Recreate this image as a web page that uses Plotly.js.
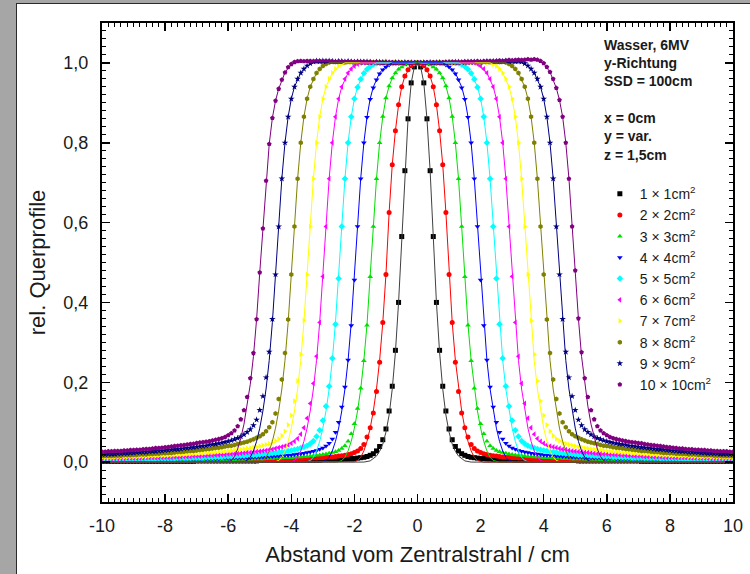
<!DOCTYPE html>
<html>
<head>
<meta charset="utf-8">
<script src="https://cdn.plot.ly/plotly-3.0.1.min.js"></script>
<style>
html,body{margin:0;padding:0;background:#a6a6a6;}
#panel{position:absolute;left:16px;top:3px;width:740px;height:580px;background:#ffffff;border:1.5px solid #2a2a2a;box-sizing:border-box;}
#chart{position:absolute;left:0;top:0;width:750px;height:574px;}
</style>
</head>
<body>
<div id="panel"></div>
<div id="chart"></div>
<script>
// x positions of the measured points (cm)
const xPos = [0,0.1,0.2,0.3,0.4,0.5,0.6,0.7,0.8,0.9,1,1.1,1.2,1.3,1.4,1.5,1.6,1.7,1.8,1.9,2,2.1,2.2,2.3,2.4,2.5,2.6,2.7,2.8,2.9,3,3.1,3.2,3.3,3.4,3.5,3.6,3.7,3.8,3.9,4,4.1,4.2,4.3,4.4,4.5,4.6,4.7,4.8,4.9,5,5.1,5.2,5.3,5.4,5.5,5.6,5.7,5.8,5.9,6,6.1,6.2,6.3,6.4,6.5,6.6,6.7,6.8,6.9,7,7.1,7.2,7.3,7.4,7.5,7.6,7.7,7.8,7.9,8,8.1,8.2,8.3,8.4,8.5,8.6,8.7,8.8,8.9,9,9.1,9.2,9.3,9.4,9.5,9.6,9.7,9.8,9.9,10];
const xNeg = [-0.1,-0.2,-0.3,-0.4,-0.5,-0.6,-0.7,-0.8,-0.9,-1,-1.1,-1.2,-1.3,-1.4,-1.5,-1.6,-1.7,-1.8,-1.9,-2,-2.1,-2.2,-2.3,-2.4,-2.5,-2.6,-2.7,-2.8,-2.9,-3,-3.1,-3.2,-3.3,-3.4,-3.5,-3.6,-3.7,-3.8,-3.9,-4,-4.1,-4.2,-4.3,-4.4,-4.5,-4.6,-4.7,-4.8,-4.9,-5,-5.1,-5.2,-5.3,-5.4,-5.5,-5.6,-5.7,-5.8,-5.9,-6,-6.1,-6.2,-6.3,-6.4,-6.5,-6.6,-6.7,-6.8,-6.9,-7,-7.1,-7.2,-7.3,-7.4,-7.5,-7.6,-7.7,-7.8,-7.9,-8,-8.1,-8.2,-8.3,-8.4,-8.5,-8.6,-8.7,-8.8,-8.9,-9,-9.1,-9.2,-9.3,-9.4,-9.5,-9.6,-9.7,-9.8,-9.9,-10];

// measured relative profiles, right half (x = 0 ... 10)
const y1R = [1,.99,.95,.86,.73,.565,.4,.28,.19,.128,
.083,.056,.039,.028,.021,.017,.014,.012,.011,.01,
.009,.009,.008,.008,.007,.007,.006,.006,.006,.006,
.006,.005,.005,.005,.005,.005,.005,.005,.005,.005,
.005,.004,.004,.004,.004,.004,.004,.004,.004,.004,
.004,.003,.003,.003,.003,.003,.003,.003,.003,.003,
.003,.003,.003,.003,.003,.003,.003,.003,.003,.003,
.003,.002,.002,.002,.002,.002,.002,.002,.002,.002,
.002,.002,.002,.002,.002,.002,.002,.002,.002,.002,
.002,.002,.002,.002,.002,.002,.002,.002,.002,.002,
.002];
const y2R = [1,.998,.993,.983,.967,.94,.895,.83,.745,.625,
.47,.35,.25,.177,.123,.086,.063,.044,.034,.028,
.024,.021,.019,.017,.016,.015,.014,.013,.012,.012,
.011,.011,.01,.01,.009,.009,.009,.008,.008,.008,
.007,.007,.007,.007,.007,.007,.006,.006,.006,.006,
.006,.005,.005,.005,.005,.005,.005,.005,.005,.005,
.005,.004,.004,.004,.004,.004,.004,.004,.004,.004,
.004,.003,.003,.003,.003,.003,.003,.003,.003,.003,
.003,.003,.003,.003,.003,.003,.003,.003,.003,.003,
.003,.003,.003,.003,.003,.003,.003,.003,.003,.003,
.003];
const y3R = [1,1,1,.998,.995,.99,.984,.975,.962,.942,
.912,.866,.8,.71,.59,.464,.343,.254,.185,.134,
.096,.071,.052,.041,.034,.029,.026,.024,.022,.02,
.019,.018,.017,.016,.015,.014,.014,.013,.013,.012,
.011,.011,.011,.01,.01,.01,.009,.009,.009,.008,
.008,.008,.008,.007,.007,.007,.007,.007,.006,.006,
.006,.006,.006,.006,.006,.005,.005,.005,.005,.005,
.005,.005,.005,.005,.005,.005,.005,.005,.005,.005,
.005,.005,.004,.004,.004,.004,.004,.004,.004,.004,
.004,.004,.004,.004,.004,.004,.004,.004,.004,.004,
.004];
const y4R = [1,1,1,1,1,1,1,.999,.998,.995,
.99,.983,.973,.958,.938,.909,.864,.8,.71,.59,
.456,.342,.256,.188,.138,.1,.075,.058,.047,.04,
.035,.032,.029,.027,.025,.024,.022,.021,.02,.019,
.018,.017,.017,.016,.015,.015,.014,.014,.013,.013,
.012,.012,.012,.011,.011,.011,.01,.01,.01,.009,
.009,.009,.009,.008,.008,.008,.008,.008,.008,.007,
.007,.007,.007,.007,.007,.007,.007,.007,.006,.006,
.006,.006,.006,.006,.006,.006,.006,.006,.006,.005,
.005,.005,.005,.005,.005,.005,.005,.005,.005,.005,
.005];
const y5R = [1,1,1,1,1.001,1,1,1.001,1,1,
1.001,1,1,.999,.996,.991,.984,.974,.959,.939,
.91,.865,.8,.71,.59,.46,.345,.26,.19,.14,
.104,.08,.064,.053,.046,.041,.038,.035,.033,.031,
.029,.028,.026,.025,.024,.023,.022,.021,.02,.02,
.019,.018,.018,.017,.017,.016,.016,.015,.015,.014,
.014,.014,.013,.013,.013,.012,.012,.012,.011,.011,
.011,.011,.01,.01,.01,.01,.01,.009,.009,.009,
.009,.009,.009,.008,.008,.008,.008,.008,.008,.008,
.008,.007,.007,.007,.007,.007,.007,.007,.007,.007,
.007];
const y6R = [1,1,1,1.001,1,1,1.001,1,1.001,1,
1.001,1.001,1,1.001,1.001,1,1.001,1.001,1,.997,
.992,.985,.975,.96,.94,.91,.865,.8,.71,.59,
.465,.35,.265,.197,.147,.11,.086,.07,.059,.052,
.047,.043,.04,.038,.036,.034,.032,.031,.029,.028,
.027,.026,.025,.024,.024,.023,.022,.021,.021,.02,
.02,.019,.019,.018,.018,.017,.017,.016,.016,.015,
.015,.015,.014,.014,.014,.013,.013,.013,.012,.012,
.012,.012,.011,.011,.011,.011,.011,.01,.01,.01,
.01,.01,.01,.009,.009,.009,.009,.009,.009,.009,
.009];
const y7R = [1,1,1.001,1,1,1.001,1,1.001,1,1.001,
1.001,1,1.001,1.002,1.001,1.002,1.001,1.002,1.002,1.001,
1.002,1.002,1.001,1,.997,.992,.985,.975,.96,.94,
.91,.865,.8,.71,.59,.47,.355,.27,.203,.153,
.117,.093,.077,.066,.058,.053,.049,.046,.044,.042,
.04,.038,.037,.035,.034,.033,.032,.031,.03,.029,
.028,.027,.026,.026,.025,.024,.024,.023,.022,.022,
.021,.021,.02,.02,.019,.019,.018,.018,.017,.017,
.016,.016,.016,.015,.015,.015,.014,.014,.014,.013,
.013,.013,.013,.012,.012,.012,.012,.011,.011,.011,
.011];
const y8R = [1,1,1,1.001,1,1.001,1,1.001,1.001,1,
1.001,1.002,1.001,1.002,1.001,1.002,1.002,1.003,1.002,1.003,
1.002,1.003,1.003,1.002,1.003,1.003,1.002,1.003,1.001,.997,
.992,.985,.975,.96,.94,.91,.865,.8,.71,.59,
.47,.357,.273,.207,.158,.122,.1,.087,.077,.07,
.065,.061,.057,.054,.051,.049,.047,.045,.043,.041,
.04,.039,.037,.036,.035,.034,.033,.032,.031,.03,
.029,.028,.028,.027,.026,.025,.025,.024,.023,.023,
.022,.022,.021,.021,.02,.02,.019,.019,.019,.018,
.018,.017,.017,.017,.016,.016,.016,.015,.015,.015,
.015];
const y9R = [1,1,1.001,1,1.001,1,1.001,1.001,1,1.001,
1.002,1.001,1.002,1.002,1.001,1.002,1.003,1.002,1.003,1.003,
1.002,1.003,1.004,1.003,1.004,1.004,1.003,1.004,1.005,1.004,
1.005,1.004,1.005,1.003,.999,.993,.985,.975,.96,.94,
.91,.865,.8,.71,.59,.47,.358,.276,.212,.165,
.13,.106,.092,.082,.075,.069,.064,.06,.057,.054,
.052,.05,.048,.047,.045,.044,.043,.041,.04,.039,
.038,.037,.036,.035,.034,.033,.032,.032,.031,.03,
.029,.028,.028,.027,.027,.026,.025,.025,.024,.024,
.023,.023,.022,.022,.021,.021,.02,.02,.02,.019,
.019];
const y10R = [1,1,1,1.001,1,1.001,1.001,1,1.001,1.002,
1.001,1.002,1.002,1.001,1.002,1.003,1.002,1.003,1.003,1.004,
1.003,1.004,1.004,1.005,1.004,1.005,1.006,1.005,1.006,1.007,
1.006,1.007,1.008,1.007,1.008,1.009,1.008,1.009,1.008,1.005,
.999,.99,.977,.96,.937,.907,.865,.8,.71,.59,
.48,.36,.275,.21,.163,.13,.107,.09,.079,.072,
.067,.063,.06,.058,.056,.054,.053,.051,.05,.049,
.048,.047,.045,.044,.043,.042,.041,.04,.039,.038,
.037,.036,.035,.034,.034,.033,.032,.032,.031,.031,
.03,.03,.029,.029,.028,.028,.027,.027,.027,.026,
.026];

// measured relative profiles, left half (x = -0.1 ... -10)
const y1L = [.99,.95,.86,.73,.565,.4,.28,.19,.128,
.083,.056,.039,.028,.021,.017,.014,.012,.011,.01,
.009,.009,.008,.008,.007,.007,.006,.006,.006,.006,
.006,.005,.005,.005,.005,.005,.005,.005,.005,.005,
.005,.004,.004,.004,.004,.004,.004,.004,.004,.004,
.004,.003,.003,.003,.003,.003,.003,.003,.003,.003,
.003,.003,.003,.003,.003,.003,.003,.003,.003,.003,
.003,.002,.002,.002,.002,.002,.002,.002,.002,.002,
.002,.002,.002,.002,.002,.002,.002,.002,.002,.002,
.002,.002,.002,.002,.002,.002,.002,.002,.002,.002,
.002];
const y2L = [.998,.993,.983,.967,.94,.895,.83,.745,.625,
.47,.35,.25,.177,.123,.086,.063,.044,.034,.028,
.024,.021,.019,.017,.016,.015,.014,.013,.012,.012,
.011,.011,.01,.01,.009,.009,.009,.008,.008,.008,
.007,.007,.007,.007,.007,.007,.006,.006,.006,.006,
.006,.005,.005,.005,.005,.005,.005,.005,.005,.005,
.005,.004,.004,.004,.004,.004,.004,.004,.004,.004,
.004,.003,.003,.003,.003,.003,.003,.003,.003,.003,
.003,.003,.003,.003,.003,.003,.003,.003,.003,.003,
.003,.003,.003,.003,.003,.003,.003,.003,.003,.003,
.003];
const y3L = [1,1,.998,.995,.99,.984,.975,.962,.942,
.912,.866,.8,.71,.59,.464,.343,.254,.185,.134,
.096,.071,.052,.041,.034,.029,.026,.024,.022,.02,
.019,.018,.017,.016,.015,.014,.014,.013,.013,.012,
.011,.011,.011,.01,.01,.01,.009,.009,.009,.008,
.008,.008,.008,.007,.007,.007,.007,.007,.006,.006,
.006,.006,.006,.006,.006,.005,.005,.005,.005,.005,
.005,.005,.005,.005,.005,.005,.005,.005,.005,.005,
.005,.005,.004,.004,.004,.004,.004,.004,.004,.004,
.004,.004,.004,.004,.004,.004,.004,.004,.004,.004,
.004];
const y4L = [1,1,1,1,1,1,.999,.998,.995,
.99,.983,.973,.958,.938,.909,.864,.8,.71,.59,
.456,.342,.256,.188,.138,.1,.075,.058,.047,.04,
.035,.032,.029,.027,.025,.024,.022,.021,.02,.019,
.018,.017,.017,.016,.015,.015,.014,.014,.013,.013,
.012,.012,.012,.011,.011,.011,.01,.01,.01,.009,
.009,.009,.009,.008,.008,.008,.008,.008,.008,.007,
.007,.007,.007,.007,.007,.007,.007,.007,.006,.006,
.006,.006,.006,.006,.006,.006,.006,.006,.006,.005,
.005,.005,.005,.005,.005,.005,.005,.005,.005,.005,
.005];
const y5L = [1,1,1,1.001,1,1,1.001,1,1,
1.001,1,1,.999,.996,.991,.984,.974,.959,.939,
.91,.865,.8,.71,.59,.46,.345,.26,.19,.14,
.104,.08,.064,.053,.046,.041,.038,.035,.033,.031,
.029,.028,.026,.025,.024,.023,.022,.021,.02,.02,
.019,.018,.018,.017,.017,.016,.016,.015,.015,.014,
.014,.014,.013,.013,.013,.012,.012,.012,.011,.011,
.011,.011,.01,.01,.01,.01,.01,.009,.009,.009,
.009,.009,.009,.008,.008,.008,.008,.008,.008,.008,
.008,.007,.007,.007,.007,.007,.007,.007,.007,.007,
.007];
const y6L = [1,1,1.001,1,1,1.001,1,1.001,1,
1.001,1.001,1,1.001,1.001,1,1.001,1.001,1,.997,
.992,.985,.975,.96,.94,.91,.865,.8,.71,.59,
.465,.35,.265,.197,.147,.11,.086,.07,.059,.052,
.047,.043,.04,.038,.036,.034,.032,.031,.029,.028,
.027,.026,.025,.024,.024,.023,.022,.021,.021,.02,
.02,.019,.019,.018,.018,.017,.017,.016,.016,.015,
.015,.015,.014,.014,.014,.013,.013,.013,.012,.012,
.012,.012,.011,.011,.011,.011,.011,.01,.01,.01,
.01,.01,.01,.009,.009,.009,.009,.009,.009,.009,
.009];
const y7L = [1,1.001,1,1,1.001,1,1.001,1,1.001,
1.001,1,1.001,1.002,1.001,1.002,1.001,1.002,1.002,1.001,
1.002,1.002,1.001,1,.997,.992,.985,.975,.96,.94,
.91,.865,.8,.71,.59,.47,.355,.27,.203,.153,
.117,.093,.077,.066,.058,.053,.049,.046,.044,.042,
.04,.038,.037,.035,.034,.033,.032,.031,.03,.029,
.028,.027,.026,.026,.025,.024,.024,.023,.022,.022,
.021,.021,.02,.02,.019,.019,.018,.018,.017,.017,
.016,.016,.016,.015,.015,.015,.014,.014,.014,.013,
.013,.013,.013,.012,.012,.012,.012,.011,.011,.011,
.011];
const y8L = [1,1,1.001,1,1.001,1,1.001,1.001,1,
1.001,1.002,1.001,1.002,1.001,1.002,1.002,1.003,1.002,1.003,
1.002,1.003,1.003,1.002,1.003,1.003,1.002,1.003,1.001,.997,
.992,.985,.975,.96,.94,.91,.865,.8,.71,.59,
.47,.357,.273,.207,.158,.122,.1,.087,.077,.07,
.065,.061,.057,.054,.051,.049,.047,.045,.043,.041,
.04,.039,.037,.036,.035,.034,.033,.032,.031,.03,
.029,.028,.028,.027,.026,.025,.025,.024,.023,.023,
.022,.022,.021,.021,.02,.02,.019,.019,.019,.018,
.018,.017,.017,.017,.016,.016,.016,.015,.015,.015,
.015];
const y9L = [1,1.001,1,1.001,1,1.001,1.001,1,1.001,
1.002,1.001,1.002,1.002,1.001,1.002,1.003,1.002,1.003,1.003,
1.002,1.003,1.004,1.003,1.004,1.004,1.003,1.004,1.005,1.004,
1.005,1.004,1.005,1.003,.999,.993,.985,.975,.96,.94,
.91,.865,.8,.71,.59,.47,.358,.276,.212,.165,
.13,.106,.092,.082,.075,.069,.064,.06,.057,.054,
.052,.05,.048,.047,.045,.044,.043,.041,.04,.039,
.038,.037,.036,.035,.034,.033,.032,.032,.031,.03,
.029,.028,.028,.027,.027,.026,.025,.025,.024,.024,
.023,.023,.022,.022,.021,.021,.02,.02,.02,.019,
.019];
const y10L = [1,1,1.001,1,1,1.001,1,1.001,1.001,
1.001,1,1.001,1.002,1.001,1.002,1.001,1.002,1.002,1.003,
1.002,1.003,1.003,1.002,1.003,1.004,1.003,1.004,1.004,1.005,
1.004,1.005,1.005,1.004,1.005,1.005,1.004,1.005,1.004,1.002,
.997,.989,.976,.958,.935,.905,.862,.797,.705,.585,
.475,.358,.273,.21,.163,.13,.107,.09,.079,.072,
.067,.063,.06,.058,.056,.054,.052,.051,.05,.049,
.048,.046,.045,.044,.043,.042,.041,.04,.039,.038,
.037,.036,.035,.035,.034,.033,.033,.032,.031,.031,
.03,.03,.029,.029,.028,.028,.028,.027,.027,.026,
.026];

// fitted curves (x in cm, y relative)
const fitX1 = [-10,-1.7,-1.5,-1.4,-1.3,-1.2,-1.1,-1,-0.9,-0.8,-0.7,-0.6,-0.5,-0.4,-0.3,-0.2,-0.1,0,0.1,0.2,0.3,0.4,0.5,0.6,0.7,0.8,0.9,1,1.1,1.2,1.3,1.4,1.5,1.7,10];
const fitY1 = [0,0,.003,.008,.015,.027,.045,.075,.118,.183,.275,.4,.565,.73,.86,.95,.99,1,.99,.95,.86,.73,.565,.4,.275,.183,.118,.075,.045,.027,.015,.008,.003,0,0];
const fitX2 = [-10,-2.1,-2,-1.9,-1.8,-1.7,-1.6,-1.5,-1.4,-1.3,-1.2,-1.1,-1,-0.9,-0.8,-0.7,-0.6,-0.5,-0.4,-0.2,0,0.2,0.4,0.5,0.6,0.7,0.8,0.9,1,1.1,1.2,1.3,1.4,1.5,1.6,1.7,1.8,1.9,2,2.1,10];
const fitY2 = [0,0,.001,.004,.012,.028,.052,.085,.128,.183,.255,.35,.47,.625,.745,.83,.895,.94,.967,.993,1,.993,.967,.94,.895,.83,.745,.625,.47,.35,.255,.183,.128,.085,.052,.028,.012,.004,.001,0,0];
const fitX3 = [-10,-2.6,-2.5,-2.4,-2.3,-2.2,-2.1,-2,-1.9,-1.8,-1.7,-1.6,-1.5,-1.4,-1.3,-1.2,-1.1,-1,-0.9,-0.8,-0.7,-0.5,-0.3,0,0.3,0.5,0.7,0.8,0.9,1,1.1,1.2,1.3,1.4,1.5,1.6,1.7,1.8,1.9,2,2.1,2.2,2.3,2.4,2.5,2.6,10];
const fitY3 = [0,0,.001,.004,.012,.028,.052,.085,.128,.183,.255,.345,.464,.59,.71,.8,.866,.912,.942,.962,.975,.99,.998,1,.998,.99,.975,.962,.942,.912,.866,.8,.71,.59,.464,.345,.255,.183,.128,.085,.052,.028,.012,.004,.001,0,0];
const fitX4 = [-10,-3.1,-3,-2.9,-2.8,-2.7,-2.6,-2.5,-2.4,-2.3,-2.2,-2.1,-2,-1.9,-1.8,-1.7,-1.6,-1.5,-1.4,-1.2,-1,-0.8,0,0.8,1,1.2,1.4,1.5,1.6,1.7,1.8,1.9,2,2.1,2.2,2.3,2.4,2.5,2.6,2.7,2.8,2.9,3,3.1,10];
const fitX5 = [-10,-3.6,-3.5,-3.4,-3.3,-3.2,-3.1,-3,-2.9,-2.8,-2.7,-2.6,-2.5,-2.4,-2.3,-2.2,-2.1,-2,-1.9,-1.7,-1.5,-1.3,0,1.3,1.5,1.7,1.9,2,2.1,2.2,2.3,2.4,2.5,2.6,2.7,2.8,2.9,3,3.1,3.2,3.3,3.4,3.5,3.6,10];
const fitX6 = [-10,-4.1,-4,-3.9,-3.8,-3.7,-3.6,-3.5,-3.4,-3.3,-3.2,-3.1,-3,-2.9,-2.8,-2.7,-2.6,-2.5,-2.4,-2.2,-2,-1.8,0,1.8,2,2.2,2.4,2.5,2.6,2.7,2.8,2.9,3,3.1,3.2,3.3,3.4,3.5,3.6,3.7,3.8,3.9,4,4.1,10];
const fitX7 = [-10,-4.6,-4.5,-4.4,-4.3,-4.2,-4.1,-4,-3.9,-3.8,-3.7,-3.6,-3.5,-3.4,-3.3,-3.2,-3.1,-3,-2.9,-2.7,-2.5,-2.3,0,2.3,2.5,2.7,2.9,3,3.1,3.2,3.3,3.4,3.5,3.6,3.7,3.8,3.9,4,4.1,4.2,4.3,4.4,4.5,4.6,10];
const fitX8 = [-10,-5.1,-5,-4.9,-4.8,-4.7,-4.6,-4.5,-4.4,-4.3,-4.2,-4.1,-4,-3.9,-3.8,-3.7,-3.6,-3.5,-3.4,-3.2,-3,-2.8,0,2.8,3,3.2,3.4,3.5,3.6,3.7,3.8,3.9,4,4.1,4.2,4.3,4.4,4.5,4.6,4.7,4.8,4.9,5,5.1,10];
const fitX9 = [-10,-5.6,-5.5,-5.4,-5.3,-5.2,-5.1,-5,-4.9,-4.8,-4.7,-4.6,-4.5,-4.4,-4.3,-4.2,-4.1,-4,-3.9,-3.7,-3.5,-3.3,0,3.3,3.5,3.7,3.9,4,4.1,4.2,4.3,4.4,4.5,4.6,4.7,4.8,4.9,5,5.1,5.2,5.3,5.4,5.5,5.6,10];
const fitX10 = [-10,-6.1,-6,-5.9,-5.8,-5.7,-5.6,-5.5,-5.4,-5.3,-5.2,-5.1,-5,-4.9,-4.8,-4.7,-4.6,-4.5,-4.4,-4.2,-4,-3.8,0,3.8,4,4.2,4.4,4.5,4.6,4.7,4.8,4.9,5,5.1,5.2,5.3,5.4,5.5,5.6,5.7,5.8,5.9,6,6.1,10];
const fitYEdge = [0,0,.001,.004,.012,.028,.052,.085,.128,.183,.255,.35,.47,.59,.71,.8,.865,.91,.94,.975,.992,1,1,1,.992,.975,.94,.91,.865,.8,.71,.59,.47,.35,.255,.183,.128,.085,.052,.028,.012,.004,.001,0,0];
const fitY10 = [0,0,.001,.004,.014,.033,.06,.095,.14,.195,.265,.358,.475,.585,.705,.797,.862,.905,.935,.976,.997,1.004,1,1.008,.999,.977,.937,.907,.865,.8,.71,.59,.48,.36,.265,.195,.14,.095,.06,.033,.014,.004,.001,0,0];

const seriesNames = ["1 × 1cm<sup>2</sup>","2 × 2cm<sup>2</sup>","3 × 3cm<sup>2</sup>","4 × 4cm<sup>2</sup>","5 × 5cm<sup>2</sup>","6 × 6cm<sup>2</sup>","7 × 7cm<sup>2</sup>","8 × 8cm<sup>2</sup>","9 × 9cm<sup>2</sup>","10 × 10cm<sup>2</sup>"];
const xTickVals = [-10,-8,-6,-4,-2,0,2,4,6,8,10];
const xTickText = ["-10","-8","-6","-4","-2","0","2","4","6","8","10"];
const infoLines = ["Wasser, 6MV","y-Richtung","SSD = 100cm","x = 0cm","y = var.","z = 1,5cm"];

// styles
const colors = ["#000000","#ff0000","#00e000","#0000ff","#00ffff","#ff00ff","#ffff00","#808000","#000080","#800080"];
const lineColors = ["#404040","#ff0000","#00e000","#0000ff","#00ffff","#ff00ff","#ffff00","#808000","#000080","#800080"];
const symbols = ["square","circle","triangle-up","triangle-down","diamond","triangle-left","triangle-right","hexagon","star","pentagon"];
const infoY = [0.9551,0.9165,0.8779,0.8017,0.7631,0.7244];

const yL = [y1L,y2L,y3L,y4L,y5L,y6L,y7L,y8L,y9L,y10L];
const yR = [y1R,y2R,y3R,y4R,y5R,y6R,y7R,y8R,y9R,y10R];
const fitXs = [fitX1,fitX2,fitX3,fitX4,fitX5,fitX6,fitX7,fitX8,fitX9,fitX10];
const fitYs = [fitY1,fitY2,fitY3,fitYEdge,fitYEdge,fitYEdge,fitYEdge,fitYEdge,fitYEdge,fitY10];

// tick label text with a plain hyphen instead of the typographic minus
const xAlias = {};
xTickVals.forEach((v, k) => { if (v < 0) xAlias["\u2212" + Math.abs(v)] = xTickText[k]; });

const FONT = "Liberation Sans, Arial, Helvetica, sans-serif";
const traces = [];
for (let i = 0; i < 10; i++) {
  traces.push({
    type: "scatter", mode: "markers", name: seriesNames[i],
    x: xNeg.concat(xPos), y: yL[i].concat(yR[i]),
    marker: {color: colors[i], symbol: symbols[i], size: 5, line: {width: 0}}
  });
}
for (let i = 9; i >= 0; i--) {
  traces.push({
    type: "scatter", mode: "lines", x: fitXs[i], y: fitYs[i],
    line: {color: lineColors[i], width: 1}, showlegend: false
  });
}

const annotations = infoLines.map((t, k) => ({
  xref: "paper", yref: "paper", x: 0.7924, y: infoY[k], xanchor: "left", yanchor: "middle",
  text: "<b>" + t + "</b>", showarrow: false, font: {family: FONT, size: 14, color: "#1a1a1a"}
}));

const layout = {
  width: 750, height: 574,
  margin: {l: 102, r: 17, t: 23, b: 72},
  paper_bgcolor: "rgba(0,0,0,0)", plot_bgcolor: "#ffffff",
  separators: ",.",
  font: {family: FONT, color: "#1a1a1a"},
  showlegend: true,
  legend: {x: 0.789, xanchor: "left", y: 0.676, yanchor: "top", bgcolor: "rgba(0,0,0,0)",
           font: {family: FONT, size: 14, color: "#1a1a1a"}, itemwidth: 30},
  xaxis: {
    range: [-10, 10], tickmode: "linear", tick0: -10, dtick: 2, labelalias: xAlias,
    ticks: "inside", ticklen: 8, tickwidth: 1.5, tickcolor: "#000",
    minor: {tick0: -10, dtick: 0.2, ticks: "inside", ticklen: 4, tickwidth: 1, tickcolor: "#000"},
    showline: true, linecolor: "#000", linewidth: 2, mirror: "allticks",
    showgrid: false, zeroline: false,
    tickfont: {family: FONT, size: 18, color: "#1a1a1a"}, ticklabelstandoff: 6,
    title: {text: "Abstand vom Zentralstrahl / cm", font: {family: FONT, size: 22, color: "#1a1a1a"}, standoff: 12}
  },
  yaxis: {
    range: [-0.1, 1.1], tickmode: "linear", tick0: 0, dtick: 0.2, tickformat: ".1f",
    ticks: "inside", ticklen: 8, tickwidth: 1.5, tickcolor: "#000",
    minor: {tick0: 0, dtick: 0.02, ticks: "inside", ticklen: 4, tickwidth: 1, tickcolor: "#000"},
    showline: true, linecolor: "#000", linewidth: 2, mirror: "allticks",
    showgrid: false, zeroline: false,
    tickfont: {family: FONT, size: 18, color: "#1a1a1a"}, ticklabelstandoff: 8,
    title: {text: "rel. Querprofile", font: {family: FONT, size: 22, color: "#1a1a1a"}, standoff: 12}
  },
  annotations: annotations
};

const gd = document.getElementById("chart");
Plotly.newPlot(gd, traces, layout, {staticPlot: true}).then(() => {
  if (gd.querySelectorAll("path.xtick").length === 0) {
    return Plotly.react(gd, traces, layout, {staticPlot: true});
  }
});
</script>
</body>
</html>
